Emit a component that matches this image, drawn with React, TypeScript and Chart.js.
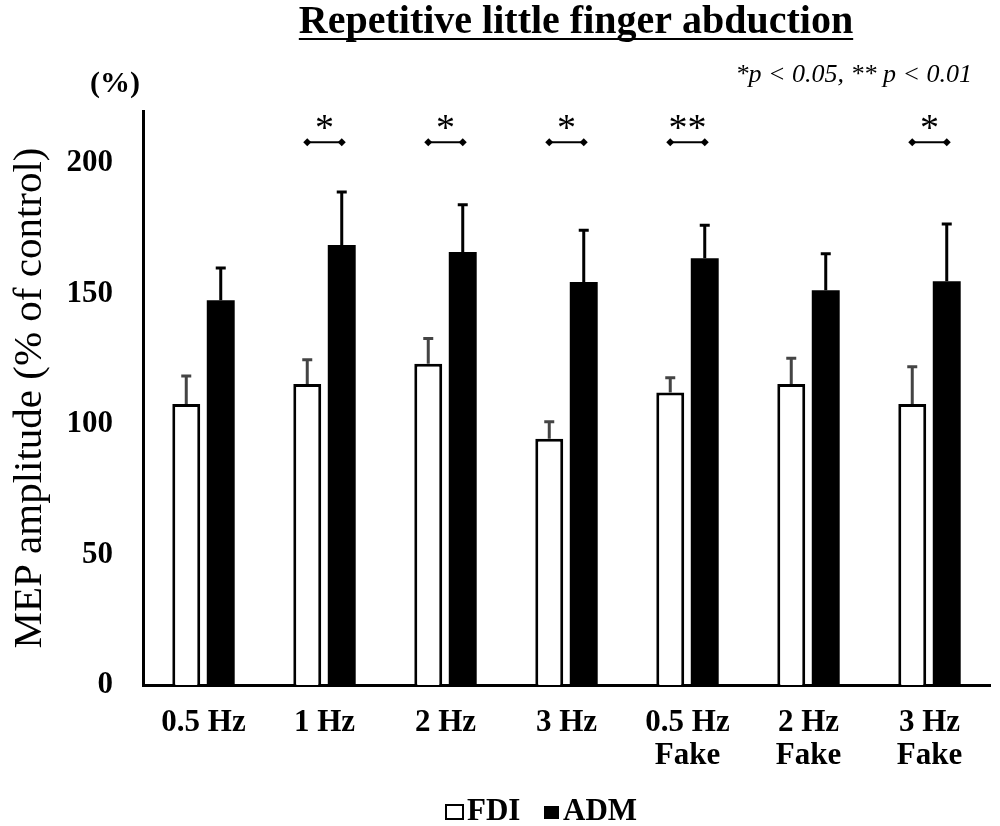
import { useEffect, useRef } from 'react';
import { Chart, registerables } from 'chart.js';

Chart.register(...registerables);

const categories = [['0.5 Hz'], ['1 Hz'], ['2 Hz'], ['3 Hz'], ['0.5 Hz', 'Fake'], ['2 Hz', 'Fake'], ['3 Hz', 'Fake']];
const fdiMean = [107.7, 115.4, 123.1, 94.4, 112.1, 115.4, 107.7];
const fdiErr = [10.7, 9.3, 9.7, 6.5, 5.7, 9.8, 14.3];
const admMean = [147.5, 168.6, 166.0, 154.5, 163.6, 151.3, 154.7];
const admErr = [12.3, 20.4, 18.1, 19.8, 12.6, 14.0, 22.0];
const sigMarks = ['', '*', '*', '*', '**', '', '*'];
const sigLevel = 208;
const yTicks = [0, 50, 100, 150, 200];

const SERIF = '"Liberation Serif", "Times New Roman", serif';

const overlay = {
  id: 'overlay',
  afterDatasetsDraw(chart: any) {
    const { ctx } = chart;
    const y = chart.scales.y;
    const errs = [fdiErr, admErr];
    const errColors = ['#444', '#000'];

    // error bars
    ctx.save();
    ctx.lineWidth = 3;
    [0, 1].forEach((d) => {
      const meta = chart.getDatasetMeta(d);
      const values = chart.data.datasets[d].data;
      ctx.strokeStyle = errColors[d];
      meta.data.forEach((bar: any, i: number) => {
        const top = y.getPixelForValue(values[i]);
        const end = y.getPixelForValue(values[i] + errs[d][i]);
        ctx.beginPath();
        ctx.moveTo(bar.x, top);
        ctx.lineTo(bar.x, end);
        ctx.moveTo(bar.x - 5, end);
        ctx.lineTo(bar.x + 5, end);
        ctx.stroke();
      });
    });

    // significance brackets
    const m0 = chart.getDatasetMeta(0);
    const m1 = chart.getDatasetMeta(1);
    const by = y.getPixelForValue(sigLevel);
    ctx.strokeStyle = '#000';
    ctx.fillStyle = '#000';
    ctx.lineWidth = 2;
    sigMarks.forEach((mark, i) => {
      if (!mark) return;
      const x0 = m0.data[i].x;
      const x1 = m1.data[i].x;
      ctx.beginPath();
      ctx.moveTo(x0, by);
      ctx.lineTo(x1, by);
      ctx.stroke();
      [x0, x1].forEach((x) => {
        ctx.beginPath();
        ctx.moveTo(x - 4, by);
        ctx.lineTo(x, by - 4);
        ctx.lineTo(x + 4, by);
        ctx.lineTo(x, by + 4);
        ctx.closePath();
        ctx.fill();
      });
      ctx.font = `38px ${SERIF}`;
      ctx.textAlign = 'center';
      ctx.textBaseline = 'middle';
      ctx.fillText(mark, (x0 + x1) / 2, by - 12);
    });
    ctx.restore();
  },
  afterDraw(chart: any) {
    const { ctx } = chart;
    ctx.save();
    ctx.fillStyle = '#000';
    ctx.strokeStyle = '#000';

    // title
    const title = 'Repetitive little finger abduction';
    ctx.font = `bold 40px ${SERIF}`;
    ctx.textAlign = 'center';
    ctx.textBaseline = 'alphabetic';
    const tx = 576;
    ctx.fillText(title, tx, 33);
    const tw = ctx.measureText(title).width;
    ctx.lineWidth = 2;
    ctx.beginPath();
    ctx.moveTo(tx - tw / 2, 39);
    ctx.lineTo(tx + tw / 2, 39);
    ctx.stroke();

    // unit label
    ctx.font = `bold 30px ${SERIF}`;
    ctx.textBaseline = 'middle';
    ctx.fillText('(%)', 115, 84);

    // p note
    ctx.font = `italic 26px ${SERIF}`;
    ctx.textAlign = 'right';
    ctx.fillText('*p < 0.05, ** p < 0.01', 972, 75);

    // legend
    ctx.font = `bold 31px ${SERIF}`;
    ctx.textAlign = 'left';
    const ly = 812;
    ctx.lineWidth = 2;
    ctx.strokeRect(446, ly - 7, 17, 14);
    ctx.fillText('FDI', 467, ly);
    ctx.fillRect(544, ly - 6, 15, 13);
    ctx.fillText('ADM', 563, ly);
    ctx.restore();
  },
};

export default function App() {
  const canvasRef = useRef<HTMLCanvasElement>(null);

  useEffect(() => {
    if (!canvasRef.current) return;
    const chart = new Chart(canvasRef.current, {
      type: 'bar',
      data: {
        labels: categories,
        datasets: [
          {
            label: 'FDI',
            data: fdiMean,
            backgroundColor: '#fff',
            borderColor: '#000',
            borderWidth: 3,
            categoryPercentage: 0.57,
            barPercentage: 0.81,
          },
          {
            label: 'ADM',
            data: admMean,
            backgroundColor: '#000',
            borderColor: '#000',
            borderWidth: 0,
            categoryPercentage: 0.57,
            barPercentage: 0.81,
          },
        ],
      },
      options: {
        responsive: false,
        animation: false,
        layout: { padding: { left: 8, right: 10, top: 111, bottom: 0 } },
        plugins: {
          legend: { display: false },
          tooltip: { enabled: false },
        },
        scales: {
          x: {
            grid: { display: false },
            border: { display: true, color: '#000', width: 3 },
            ticks: {
              color: '#000',
              padding: 14,
              maxRotation: 0,
              font: { family: SERIF, size: 31, weight: 'bold', lineHeight: 1.05 },
            },
            afterFit: (scale: any) => {
              scale.height = 141;
            },
          },
          y: {
            min: 0,
            max: 220,
            grid: { display: false, drawTicks: false },
            border: { display: true, color: '#000', width: 3 },
            afterBuildTicks: (scale: any) => {
              scale.ticks = yTicks.map((v) => ({ value: v }));
            },
            ticks: {
              color: '#000',
              padding: 30,
              font: { family: SERIF, size: 31, weight: 'bold' },
            },
            title: {
              display: true,
              text: 'MEP amplitude (% of control)',
              color: '#000',
              padding: { top: 0, bottom: 0 },
              font: { family: SERIF, size: 41, lineHeight: 1.1 },
            },
            afterFit: (scale: any) => {
              scale.width = 135;
            },
          },
        },
      },
      plugins: [overlay],
    });
    return () => chart.destroy();
  }, []);

  return (
    <div style={{ position: 'absolute', left: 0, top: 0, width: 1000, height: 826, background: '#fff' }}>
      <canvas ref={canvasRef} width={1000} height={826} />
    </div>
  );
}
